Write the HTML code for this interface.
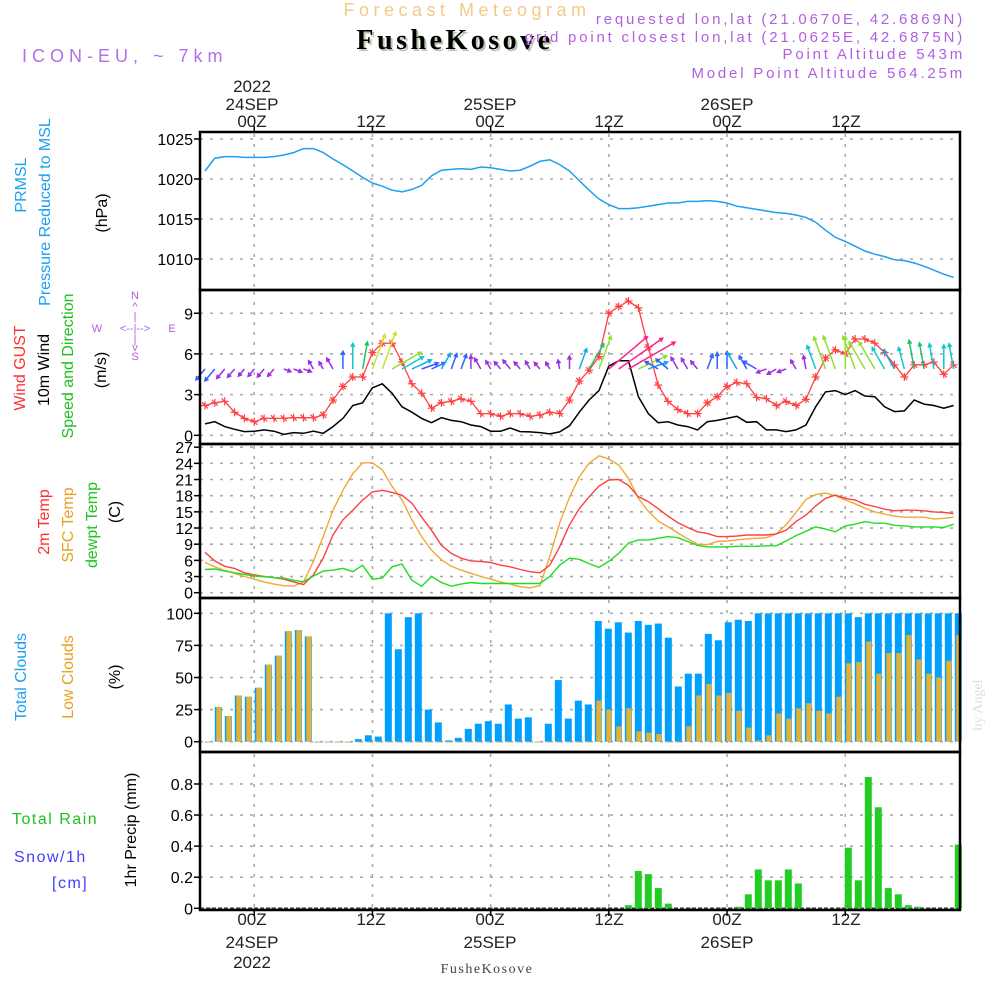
<!DOCTYPE html>
<html><head><meta charset="utf-8"><style>
html,body{margin:0;padding:0;background:#fff;}
svg{display:block;font-family:"Liberation Sans",sans-serif;}
</style></head><body>
<svg id="chart" width="1000" height="1000" viewBox="0 0 1000 1000" xmlns="http://www.w3.org/2000/svg">
<rect width="1000" height="1000" fill="#fff"/>
<text x="467" y="16" text-anchor="middle" font-size="18" fill="#f3c88a" letter-spacing="4.5">Forecast Meteogram</text>
<text x="457" y="51" text-anchor="middle" font-size="28" font-weight="bold" font-family="Liberation Serif,serif" fill="#b8c8b0" letter-spacing="3.5">FusheKosove</text>
<text x="455" y="49" text-anchor="middle" font-size="28" font-weight="bold" font-family="Liberation Serif,serif" fill="#000" letter-spacing="3.5">FusheKosove</text>
<text x="22" y="62" font-size="18" fill="#b070e8" letter-spacing="5">ICON-EU, ~ 7km</text>
<g font-size="15" fill="#b060e0" text-anchor="end" letter-spacing="2.8">
<text x="965" y="24">requested lon,lat (21.0670E, 42.6869N)</text>
<text x="965" y="42">grid point closest lon,lat (21.0625E, 42.6875N)</text>
<text x="965" y="59">Point Altitude 543m</text>
<text x="965" y="78">Model Point Altitude 564.25m</text>
</g>
<g font-size="17" fill="#222" text-anchor="middle">
<text x="252" y="92">2022</text><text x="252" y="110">24SEP</text><text x="252" y="127">00Z</text>
<text x="371" y="127">12Z</text>
<text x="490" y="110">25SEP</text><text x="490" y="127">00Z</text>
<text x="609" y="127">12Z</text>
<text x="727" y="110">26SEP</text><text x="727" y="127">00Z</text>
<text x="846" y="127">12Z</text>
</g>
<g font-size="17" fill="#222" text-anchor="middle">
<text x="252" y="925">00Z</text><text x="252" y="948">24SEP</text><text x="252" y="968">2022</text>
<text x="371" y="925">12Z</text>
<text x="490" y="925">00Z</text><text x="490" y="948">25SEP</text>
<text x="609" y="925">12Z</text>
<text x="727" y="925">00Z</text><text x="727" y="948">26SEP</text>
<text x="846" y="925">12Z</text>
</g>
<text x="487" y="973" text-anchor="middle" font-size="14" font-family="Liberation Serif,serif" fill="#444" letter-spacing="1.5">FusheKosove</text>
<text transform="translate(982,705) rotate(-90)" text-anchor="middle" font-size="14" font-family="Liberation Serif,serif" fill="#ddd">by Angel</text>

<g font-size="16" text-anchor="middle">
<text transform="translate(26,185) rotate(-90)" fill="#1ca0f0">PRMSL</text>
<text transform="translate(50,212) rotate(-90)" fill="#1ca0f0">Pressure Reduced to MSL</text>
<text transform="translate(107,213) rotate(-90)" fill="#000">(hPa)</text>
<text transform="translate(25,368) rotate(-90)" fill="#ff3030">Wind GUST</text>
<text transform="translate(49,370) rotate(-90)" fill="#000">10m Wind</text>
<text transform="translate(73,366) rotate(-90)" fill="#20c020">Speed and Direction</text>
<text transform="translate(106,370) rotate(-90)" fill="#000">(m/s)</text>
<text transform="translate(49,522) rotate(-90)" fill="#ff3030">2m Temp</text>
<text transform="translate(73,525) rotate(-90)" fill="#e8a020">SFC Temp</text>
<text transform="translate(97,525) rotate(-90)" fill="#20c020">dewpt Temp</text>
<text transform="translate(120,512) rotate(-90)" fill="#000">(C)</text>
<text transform="translate(26,677) rotate(-90)" fill="#1ca0f0">Total Clouds</text>
<text transform="translate(73,677) rotate(-90)" fill="#e8a020">Low Clouds</text>
<text transform="translate(120,677) rotate(-90)" fill="#000">(%)</text>
<text transform="translate(136,830) rotate(-90)" fill="#000">1hr Precip (mm)</text>
</g>
<text x="12" y="824" font-size="16" fill="#20c020" letter-spacing="1.5">Total  Rain</text>
<text x="14" y="862" font-size="16" fill="#4040ff" letter-spacing="1.5">Snow/1h</text>
<text x="52" y="888" font-size="16" fill="#4040ff" letter-spacing="1.5">[cm]</text>
<g font-size="11" fill="#b060e0" text-anchor="middle">
<text x="135" y="299">N</text><text x="135" y="310">^</text><text x="135" y="320">|</text>
<text x="97" y="332">W</text><text x="135" y="332">&lt;--|--&gt;</text><text x="172" y="332">E</text>
<text x="135" y="343">|</text><text x="135" y="351">v</text><text x="135" y="360">S</text>
</g>
<g id="plots"></g>
</svg>
<script>
// ---- data (hourly index i, starting 19Z 23SEP) ----
const pressure = [1021,1022.6,1022.8,1022.8,1022.7,1022.7,1022.7,1022.8,1023.0,1023.3,1023.8,1023.8,1023.3,1022.5,1021.8,1021.0,1020.2,1019.5,1019.1,1018.6,1018.4,1018.7,1019.2,1020.4,1021.1,1021.2,1021.3,1021.2,1021.5,1021.4,1021.2,1021.0,1021.1,1021.6,1022.2,1022.4,1021.8,1021.0,1019.8,1018.6,1017.5,1016.8,1016.3,1016.3,1016.4,1016.6,1016.8,1017.0,1017.0,1017.2,1017.2,1017.3,1017.2,1017.0,1016.6,1016.4,1016.2,1016.0,1015.8,1015.7,1015.5,1015.2,1014.6,1013.6,1012.7,1012.2,1011.6,1011.0,1010.6,1010.3,1009.9,1009.8,1009.5,1009.1,1008.6,1008.1,1007.7];
const gust = [2.2,2.4,2.5,1.7,1.25,1.0,1.25,1.25,1.25,1.3,1.3,1.3,1.5,2.6,3.6,4.3,4.3,6.1,6.8,6.8,5.4,3.8,3.1,2.0,2.4,2.5,2.7,2.5,1.6,1.6,1.4,1.6,1.6,1.4,1.5,1.7,1.6,2.6,4.0,4.8,5.8,9.0,9.5,9.9,9.4,6.5,3.7,2.5,1.9,1.6,1.6,2.4,2.85,3.6,3.9,3.8,2.8,2.7,2.2,2.5,2.2,2.65,4.3,5.7,6.3,6.0,7.1,7.1,6.8,6.1,5.2,4.3,5.2,5.2,5.4,4.5,5.2];
const wind = [0.84,1.0,0.64,0.44,0.27,0.3,0.4,0.3,0.07,0.2,0.15,0.3,0.15,0.64,1.25,2.2,2.4,3.5,3.8,3.1,2.1,1.7,1.25,0.93,1.3,1.1,1.0,0.76,0.64,0.3,0.3,0.54,0.27,0.25,0.2,0.1,0.25,0.7,1.7,2.6,3.3,5.1,5.5,5.5,2.85,1.6,0.93,1.0,0.76,0.64,0.4,1.0,1.1,1.25,1.4,0.96,1.0,0.4,0.4,0.27,0.4,0.76,2.1,3.2,3.3,3.0,3.3,2.9,2.85,2.1,1.75,1.8,2.6,2.3,2.2,2.0,2.2];
const windDir = [220,220,220,220,220,220,220,220,110,110,110,330,330,330,0,0,10,20,20,60,60,65,70,65,30,20,20,0,330,330,320,320,320,330,320,330,350,0,20,30,20,50,55,60,65,70,300,310,330,330,320,20,0,0,330,330,300,250,240,250,330,350,340,340,340,0,340,330,330,330,330,345,350,350,350,0,350];
const temp2m = [7.5,5.9,4.9,4.5,3.7,3.3,3.0,2.8,2.5,2.0,1.5,3.3,6.4,10.7,13.5,15.3,17.2,18.7,19.0,18.6,18.1,16.6,14.0,11.6,8.8,7.3,6.4,5.9,5.8,5.6,5.1,4.8,4.3,3.9,3.7,5.1,8.5,12.6,15.6,17.8,19.8,20.9,21.0,19.9,17.8,16.9,15.6,14.2,13.0,12.1,11.3,11.0,10.4,10.4,10.5,10.7,10.7,10.7,10.9,11.6,13.2,14.4,16.1,17.5,18.1,17.5,17.2,16.4,16.0,15.5,15.2,15.3,15.3,15.2,15.0,14.9,14.7];
const tempSfc = [5.6,4.8,4.1,3.6,3.0,2.5,2.0,1.6,1.3,1.2,2.0,5.8,10.4,15.3,19.0,22.1,24.1,24.1,22.8,19.7,17.2,13.5,10.4,7.9,6.1,4.9,4.2,3.6,3.0,2.5,2.0,1.6,1.1,0.9,1.3,6.7,12.9,17.7,21.5,24.0,25.4,24.8,23.7,21.2,17.5,15.1,13.3,12.2,11.1,10.0,9.0,8.9,9.5,9.6,9.8,10.0,10.1,10.2,10.9,12.6,14.9,17.3,18.2,18.5,18.0,17.2,16.5,15.7,15.0,14.6,14.2,14.0,14.0,14.0,13.7,13.8,14.0];
const dewpt = [4.3,4.4,4.0,3.7,3.4,3.1,3.0,2.8,2.7,2.3,2.0,3.1,4.0,4.2,4.5,3.9,5.1,2.5,2.7,4.8,5.3,2.3,1.2,3.0,1.9,1.2,1.6,1.9,1.7,1.7,1.7,1.7,1.7,1.7,1.7,3.0,5.1,6.4,6.2,5.4,4.7,5.8,7.3,9.2,9.8,9.8,10.1,10.4,10.2,9.5,8.8,8.5,8.5,8.5,8.6,8.6,8.6,8.7,8.7,9.6,10.6,11.4,12.2,11.8,11.3,12.4,12.7,13.2,12.9,12.9,12.5,12.4,12.2,12.2,12.2,12.1,12.7];
const totalClouds = [0,27,20,36,35,42,60,67,86,87,82,0,0,0,0,2,5,4,100,72,97,100,25,15,1,3,10,14,16,14,29,18,19,0,14,48,18,32,29,94,88,93,85,94,91,92,81,43,53,53,84,79,93,95,94,100,100,100,100,100,100,100,100,100,100,97,100,100,100,100,100,100,100,100,100,100];
const lowClouds = [0,27,20,36,35,42,60,67,86,87,82,0,0,0,0,0,0,0,0,0,0,0,0,0,0,0,0,0,0,0,0,0,0,0,0,0,0,0,0,32,25,12,26,8,7,6,0,0,12,36,45,36,38,24,11,1,5,22,18,26,30,24,22,35,61,62,78,53,69,69,83,64,53,50,63,83];
const precip = [0,0,0,0,0,0,0,0,0,0,0,0,0,0,0,0,0,0,0,0,0,0,0,0,0,0,0,0,0,0,0,0,0,0,0,0,0,0,0,0,0,0,0.02,0.24,0.22,0.13,0.03,0,0,0,0,0,0,0.01,0.09,0.25,0.18,0.18,0.25,0.16,0,0,0,0,0.39,0.18,0.845,0.65,0.13,0.09,0.02,0.01,0,0,0,0.41];
const pTicks = [1010,1015,1020,1025];
const wTicks = [0,3,6,9];
const tTicks = [0,3,6,9,12,15,18,21,24,27];
const cTicks = [0,25,50,75,100];
const rTicks = [0,0.2,0.4,0.6,0.8];
const timeGridHours = [5,17,29,41,53,65];

// ---- scales ----
const L = 200, R = 960;
const xh = i => 205 + 9.85 * i;
const xb = i => 208.3 + 10 * i;
const yP = v => 259 - (v - 1010) * 8;
const yW = v => 435.3 - v * 13.56;
const yT = v => 592.7 - v * 5.39;
const yC = v => 741.7 - v * 1.284;
const yR = v => 908.3 - v * 155.4;
const panels = [[132,290,yP,pTicks,'pressure'],[290,444,yW,wTicks,'wind'],[444,598,yT,tTicks,'temp'],[598,752,yC,cTicks,'cloud'],[752,910,yR,rTicks,'precip']];

const NS = 'http://www.w3.org/2000/svg';
const root = document.getElementById('plots');
function mk(tag, attrs, parent) {
  const el = document.createElementNS(NS, tag);
  for (const k in attrs) el.setAttribute(k, attrs[k]);
  (parent || root).appendChild(el);
  return el;
}

panels.forEach(([top, bot, ys, ticks, nm]) => {
  ticks.forEach(t => {
    const y = ys(t);
    const g = mk('line', {x1: L, x2: R, y1: y, y2: y, stroke: '#aaa', 'stroke-width': 1.6, 'stroke-dasharray': '3 7'});
    
    
    const tk = mk('line', {x1: L - 6, x2: L, y1: y, y2: y, stroke: '#000', 'stroke-width': 1.5});
    
    
    const lb = mk('text', {x: L - 7, y: y + 6, 'text-anchor': 'end', 'font-size': 16, fill: '#000'});
    
    
    lb.textContent = String(t);
  });
  timeGridHours.forEach(h => {
    const x = xh(h);
    const g = mk('line', {x1: x, x2: x, y1: top + 2, y2: bot - 2, stroke: '#aaa', 'stroke-width': 1.6, 'stroke-dasharray': '3 7'});
    
    
  });
});
timeGridHours.forEach(h => {
  const x = xh(h);
  const t1 = mk('line', {x1: x, x2: x, y1: 126, y2: 132, stroke: '#000', 'stroke-width': 1.5});
  
  
  const t2 = mk('line', {x1: x, x2: x, y1: 910, y2: 916, stroke: '#000', 'stroke-width': 1.5});
  
  
});

function line(arr, xs, ys, color, nm, w) {
  const d = arr.map((v, i) => (i ? 'L' : 'M') + xs(i).toFixed(1) + ',' + ys(v).toFixed(1)).join('');
  const p = mk('path', {d: d, fill: 'none', stroke: color, 'stroke-width': w || 1.4});
  
  
  return p;
}

line(pressure, xh, yP, '#1ca0f0', 'pressure-line', 1.5);

line(wind, xh, yW, '#000', 'wind-speed-line', 1.5);
line(gust, xh, yW, '#ff4040', 'gust-line', 1.3);
gust.forEach((v, i) => {
  const x = xh(i), y = yW(v);
  const m = mk('path', {d: `M${x-4},${y}H${x+4}M${x},${y-4}V${y+4}M${x-3},${y-3}L${x+3},${y+3}`, stroke: '#ff4040', 'stroke-width': 1.2});
  
  
});
function windColor(s) {
  if (s < 0.8) return '#9a30e0';
  if (s < 1.3) return '#3060ff';
  if (s < 1.8) return '#10a8f0';
  if (s < 2.3) return '#10c8c8';
  if (s < 2.8) return '#20c070';
  if (s < 3.4) return '#90e030';
  if (s < 4.2) return '#d0e030';
  return '#ff2090';
}
windDir.forEach((deg, i) => {
  const s = wind[i];
  const len = 7 + 8.5 * s;
  const a = deg * Math.PI / 180;
  const x0 = xh(i), y0 = 369;
  const x1 = x0 + Math.sin(a) * len, y1 = y0 - Math.cos(a) * len;
  const h = 4, b1 = a + Math.PI - 0.5, b2 = a + Math.PI + 0.5;
  const d = `M${x0.toFixed(1)},${y0}L${x1.toFixed(1)},${y1.toFixed(1)}M${(x1 + Math.sin(b1) * h).toFixed(1)},${(y1 - Math.cos(b1) * h).toFixed(1)}L${x1.toFixed(1)},${y1.toFixed(1)}L${(x1 + Math.sin(b2) * h).toFixed(1)},${(y1 - Math.cos(b2) * h).toFixed(1)}`;
  const ar = mk('path', {d: d, fill: 'none', stroke: windColor(s), 'stroke-width': 1.5});
  
  
});

line(tempSfc, xh, yT, '#f0a830', 'sfc-temp-line', 1.4);
line(temp2m, xh, yT, '#ff4040', 'temp2m-line', 1.4);
line(dewpt, xh, yT, '#20dd20', 'dewpt-line', 1.4);

totalClouds.forEach((v, i) => {
  const y = yC(v);
  const r = mk('rect', {x: xb(i) - 3.5, y: y, width: 7, height: Math.max(yC(0) - y, 0.8), fill: '#00a0ff'});
  
  
});
lowClouds.forEach((v, i) => {
  const y = yC(v);
  const r = mk('rect', {x: xb(i) - 2, y: y, width: 5, height: Math.max(yC(0) - y, 0.8), fill: '#e8b030'});
  
  
});

const base = mk('line', {x1: L, x2: R, y1: yR(0), y2: yR(0), stroke: '#333', 'stroke-width': 1.5, 'stroke-dasharray': '4 2'});


precip.forEach((v, i) => {
  if (v <= 0) return;
  const y = yR(v);
  const r = mk('rect', {x: xb(i) - 3.5, y: y, width: 7, height: yR(0) - y, fill: '#22cc22'});
  
  
});

panels.forEach(([top, bot, ys, ticks, nm]) => {
  const f = mk('rect', {x: L, y: top, width: R - L, height: bot - top, fill: 'none', stroke: '#000', 'stroke-width': 2.5});
  
  
});
</script>
</body></html>
